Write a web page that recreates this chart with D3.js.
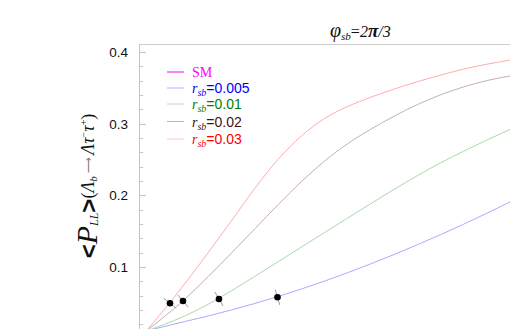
<!doctype html>
<html>
  <head>
    <meta charset="utf-8">
    <title>P_LL</title>
    <script type="text/javascript" src="https://d3js.org/d3.v7.min.js"></script>
    <style>
      body { margin: 0; background: #fff; }
    </style>
  </head>
  <body>
    <script>
      // sample points along the (unlabelled) horizontal variable
      const xs = [0.075, 0.25, 0.5, 0.75, 1, 1.25, 1.5, 1.75, 2, 2.25, 2.5, 2.75, 3, 3.25, 3.5, 3.75, 4];

      const r005 = [0.0107, 0.0163, 0.0241, 0.0318, 0.0402, 0.0492, 0.0589, 0.0693, 0.0803, 0.0921, 0.1045, 0.1174, 0.1310, 0.1450, 0.1597, 0.1749, 0.1907];
      const r01  = [0.0107, 0.0188, 0.0321, 0.0483, 0.0671, 0.0870, 0.1074, 0.1278, 0.1481, 0.1683, 0.1884, 0.2082, 0.2273, 0.2451, 0.2615, 0.2770, 0.2919];
      const r02  = [0.0107, 0.0282, 0.0558, 0.0872, 0.1199, 0.1534, 0.1869, 0.2190, 0.2476, 0.2720, 0.2922, 0.3103, 0.3264, 0.3400, 0.3512, 0.3600, 0.3664];
      const r03  = [0.0107, 0.0372, 0.0777, 0.1208, 0.1651, 0.2098, 0.2502, 0.2826, 0.3071, 0.3239, 0.3368, 0.3481, 0.3584, 0.3675, 0.3760, 0.3828, 0.3885];

      // black points lying on the curves
      const pointX = [0.334, 0.474, 0.862, 1.493];
      const pointY = [0.0494, 0.0526, 0.0554, 0.0578];
      const pointCurve = [3, 2, 1, 0];

      const legendNames = ['SM', '0.005', '0.01', '0.02', '0.03'];
      const yMajor = [0.1, 0.2, 0.3, 0.4];

      const series = [r005, r01, r02, r03];
      const lineColors = ['#ababff', '#acd8ac', '#c6aeb2', '#ffadad'];
      const legendLine = ['#ff00ff', '#b4b4ff', '#b4dcb4', '#c4b0b0', '#ffc4c4'];
      const legendText = ['#ff00ff', '#0000ff', '#008000', '#3c1414', '#ff0000'];

      const width = 510, height = 329;
      const plotLeft = 139, plotTop = 44;

      const svg = d3.select('body').append('svg')
          .attr('width', width)
          .attr('height', height);

      const x = d3.scaleLinear().domain([0, 4]).range([plotLeft, 510]);
      const y = d3.scaleLinear().domain([0, 0.411]).range([338.7, plotTop]);

      svg.append('defs').append('clipPath').attr('id', 'plot')
        .append('rect')
          .attr('x', plotLeft).attr('y', plotTop)
          .attr('width', width - plotLeft).attr('height', height - plotTop);

      // frame
      svg.append('line')
          .attr('x1', plotLeft).attr('x2', width)
          .attr('y1', plotTop + 0.5).attr('y2', plotTop + 0.5)
          .attr('stroke', '#cccccc');
      svg.append('line')
          .attr('x1', plotLeft + 0.5).attr('x2', plotLeft + 0.5)
          .attr('y1', plotTop).attr('y2', height)
          .attr('stroke', '#c4c4c4');

      // y ticks
      const minor = d3.range(1, 21).map(i => i * 0.02);
      svg.append('g').selectAll('line')
        .data(minor)
        .enter().append('line')
          .attr('x1', plotLeft).attr('x2', d => plotLeft + (yMajor.some(m => Math.abs(m - d) < 1e-9) ? 7 : 4))
          .attr('y1', d => Math.round(y(d)) + 0.5).attr('y2', d => Math.round(y(d)) + 0.5)
          .attr('stroke', '#c4c4c4');

      svg.append('g')
          .attr('font-family', 'Liberation Sans, Arial, sans-serif')
          .attr('font-size', '13.5px')
          .attr('text-anchor', 'end')
          .attr('fill', '#111')
        .selectAll('text')
        .data(yMajor)
        .enter().append('text')
          .attr('x', 128)
          .attr('y', d => y(d) + 5)
          .text(d => d.toFixed(1));

      // curves
      const line = d3.line()
          .x((d, i) => x(xs[i]))
          .y(d => y(d))
          .curve(d3.curveMonotoneX);

      const gc = svg.append('g').attr('clip-path', 'url(#plot)');
      gc.selectAll('path')
        .data(series)
        .enter().append('path')
          .attr('d', line)
          .attr('fill', 'none')
          .attr('stroke', (d, i) => lineColors[i])
          .attr('stroke-width', 1);

      // points with small marks across the curve
      const slopeAt = (s, xv) => {
        const i = Math.max(0, Math.min(xs.length - 2, Math.floor(xv / 0.25)));
        const dx = x(xs[i + 1]) - x(xs[i]);
        const dy = y(s[i + 1]) - y(s[i]);
        return Math.atan2(dy, dx);
      };
      const gp = svg.append('g');
      pointX.forEach((px, k) => {
        const cx = x(px), cy = y(pointY[k]);
        const a = slopeAt(series[pointCurve[k]], px) + Math.PI / 2;
        const L = 8;
        gp.append('line')
            .attr('x1', cx - L * Math.cos(a)).attr('y1', cy - L * Math.sin(a))
            .attr('x2', cx + L * Math.cos(a)).attr('y2', cy + L * Math.sin(a))
            .attr('stroke', '#9a9a9a');
        gp.append('circle')
            .attr('cx', cx).attr('cy', cy).attr('r', 3.3)
            .attr('fill', '#000');
      });

      // legend
      const lg = svg.append('g');
      const legY = [72, 88, 104, 121.5, 139];
      legendNames.forEach((name, i) => {
        lg.append('line')
            .attr('x1', 167).attr('x2', 184)
            .attr('y1', legY[i]).attr('y2', legY[i])
            .attr('stroke', legendLine[i]);
        const t = lg.append('text')
            .attr('x', 192).attr('y', legY[i] + 5)
            .attr('fill', legendText[i])
            .attr('font-size', '14px');
        if (i === 0) {
          t.attr('font-family', 'Liberation Serif, Times New Roman, serif').text(name);
        } else {
          t.append('tspan').attr('font-family', 'Liberation Serif, serif')
              .attr('font-style', 'italic').text('r');
          t.append('tspan').attr('font-family', 'Liberation Serif, serif')
              .attr('font-style', 'italic').attr('font-size', '10px').attr('dy', 3).text('sb');
          t.append('tspan').attr('font-family', 'Liberation Sans, Arial, sans-serif')
              .attr('dy', -3).text('=' + name);
        }
      });

      // title
      const title = svg.append('text')
          .attr('x', 330).attr('y', 37)
          .attr('font-family', 'Liberation Serif, Times New Roman, serif')
          .attr('font-style', 'italic')
          .attr('font-size', '16px')
          .attr('fill', '#111');
      title.append('tspan').attr('font-size', '20px').text('φ');
      title.append('tspan').attr('font-size', '11px').attr('dy', 3).text('sb');
      title.append('tspan').attr('dy', -3).attr('font-style', 'normal').text('=');
      title.append('tspan').text('2');
      title.append('tspan').attr('font-size', '19px').attr('font-weight', 'bold').text('π');
      title.append('tspan').text('/3');

      // y label
      const yl = svg.append('text')
          .attr('transform', 'translate(97,186) rotate(-90)')
          .attr('text-anchor', 'middle')
          .attr('font-family', 'Liberation Serif, Times New Roman, serif')
          .attr('fill', '#111');
      yl.append('tspan').attr('font-family', 'Liberation Sans, Arial, sans-serif')
          .attr('font-weight', 'bold').attr('font-size', '24px').text('<');
      yl.append('tspan').attr('font-style', 'italic').attr('font-size', '30px').text('P');
      yl.append('tspan').attr('font-style', 'italic').attr('font-size', '12px').attr('dy', 1).text('LL');
      yl.append('tspan').attr('font-family', 'Liberation Sans, Arial, sans-serif')
          .attr('font-weight', 'bold').attr('font-size', '24px').attr('dy', -1).text('>');
      yl.append('tspan').attr('font-size', '18px').attr('dy', -3).text('(');
      yl.append('tspan').attr('font-size', '18px').attr('font-style', 'italic').text('Λ');
      yl.append('tspan').attr('font-size', '11px').attr('font-style', 'italic').attr('dy', 3).text('b');
      yl.append('tspan').attr('font-size', '11px').attr('fill', '#777').attr('dy', -5).text(' ⟶ ');
      yl.append('tspan').attr('font-size', '18px').attr('font-style', 'italic').attr('dy', 2).text('Λτ');
      yl.append('tspan').attr('font-size', '10px').attr('dy', -7).text('−');
      yl.append('tspan').attr('font-size', '18px').attr('font-style', 'italic').attr('dy', 7).text('τ');
      yl.append('tspan').attr('font-size', '10px').attr('dy', -7).text('+');
      yl.append('tspan').attr('font-size', '18px').attr('dy', 7).text(')');
    </script>
  </body>
</html>
